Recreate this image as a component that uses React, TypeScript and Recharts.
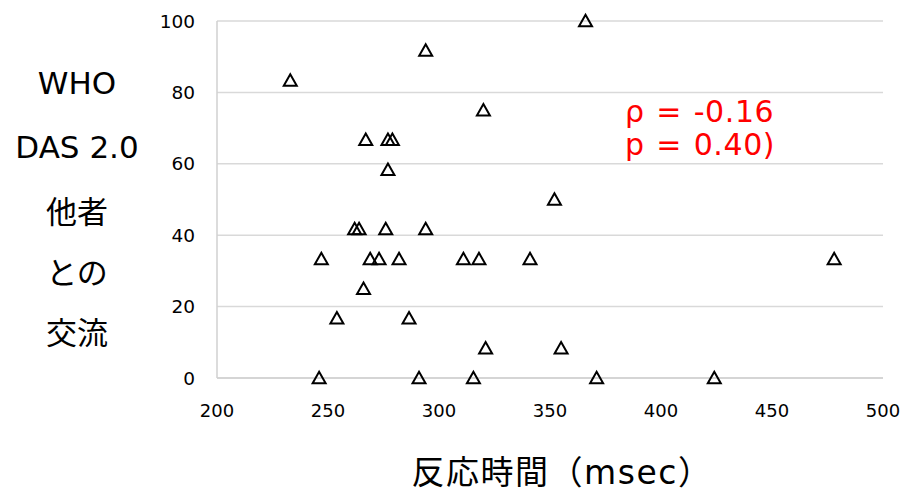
import React from 'react';
import { ScatterChart, Scatter, XAxis, YAxis, CartesianGrid, Customized } from 'recharts';

const reactionTimes = [233, 294, 366, 320, 267, 277, 279, 277, 352, 262, 264, 276, 294, 247, 269, 273, 282, 311, 318, 341, 478, 266, 254, 286.5, 321, 355, 246, 291, 315.5, 371, 424];
const whodasScores = [83.3, 91.7, 100, 75, 66.7, 66.7, 66.7, 58.3, 50, 41.7, 41.7, 41.7, 41.7, 33.3, 33.3, 33.3, 33.3, 33.3, 33.3, 33.3, 33.3, 25, 16.7, 16.7, 8.3, 8.3, 0, 0, 0, 0, 0];
const xTicks = [200, 250, 300, 350, 400, 450, 500];
const yTicks = [0, 20, 40, 60, 80, 100];
const yLabelLines = ['WHO', 'DAS 2.0', '他者', 'との', '交流'];
const xLabel = '反応時間（msec）';
const statLines = ['ρ = -0.16', 'p = 0.40)'];

const data = reactionTimes.map((x, i) => ({ x, y: whodasScores[i] }));

const FONT = '"DejaVu Sans", "Noto Sans CJK JP", sans-serif';

const Triangle = (props: any) => {
  const { cx, cy } = props;
  if (cx == null || cy == null) return null;
  const d = `M${cx},${cy - 6.3} L${cx + 6.5},${cy + 5.2} L${cx - 6.5},${cy + 5.2} Z`;
  return <path d={d} fill="none" stroke="#000" strokeWidth={2} strokeLinejoin="miter" />;
};

const Labels = () => {
  const yCenters = [83, 147, 212, 273, 333];
  return (
    <g>
      {yLabelLines.map((t, i) => (
        <text key={i} x={77} y={yCenters[i]} textAnchor="middle" dominantBaseline="central" fontSize={31} fontFamily={FONT} fill="#000">
          {t}
        </text>
      ))}
      <text x={562} y={472} textAnchor="middle" dominantBaseline="central" fontSize={33} fontFamily={FONT} fill="#000" letterSpacing={1.5}>
        {xLabel}
      </text>
      {statLines.map((t, i) => (
        <text key={i} x={625} y={122 + i * 33} fontSize={30} fontFamily={FONT} fill="#FF0000" letterSpacing={0.6} wordSpacing={1.5}>
          {t}
        </text>
      ))}
    </g>
  );
};

export default function App() {
  return (
    <div style={{ position: 'absolute', left: 0, top: 0, background: '#fff' }}>
      <ScatterChart width={904} height={495} margin={{ top: 21, right: 21, bottom: 77, left: 0 }}>
        <CartesianGrid vertical={false} stroke="#d9d9d9" strokeWidth={1.5} />
        <XAxis
          type="number"
          dataKey="x"
          domain={[200, 500]}
          ticks={xTicks}
          height={40}
          tickSize={0}
          tickMargin={26}
          tickLine={false}
          axisLine={{ stroke: '#d0d0d0', strokeWidth: 1.5 }}
          tick={{ fontSize: 18, fontFamily: FONT, fill: '#000' }}
          interval={0}
        />
        <YAxis
          type="number"
          dataKey="y"
          domain={[0, 100]}
          ticks={yTicks}
          width={217}
          tickSize={0}
          tickMargin={22}
          tickLine={false}
          axisLine={{ stroke: '#d0d0d0', strokeWidth: 1.5 }}
          tick={{ fontSize: 18.5, fontFamily: FONT, fill: '#000' }}
          interval={0}
        />
        <Scatter data={data} shape={Triangle} isAnimationActive={false} />
        <Customized component={Labels} />
      </ScatterChart>
    </div>
  );
}
